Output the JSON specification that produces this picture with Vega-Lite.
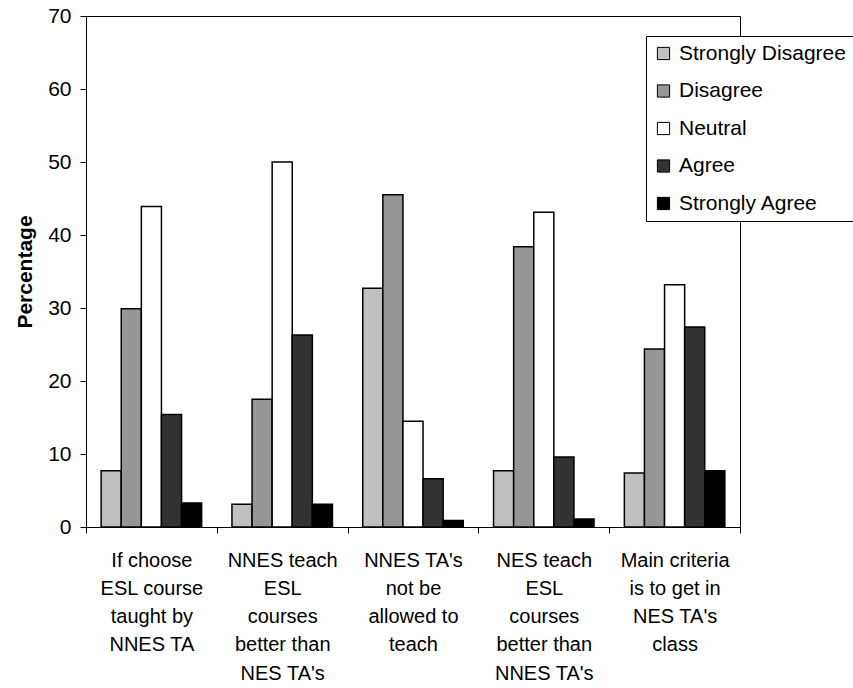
{
  "$schema": "https://vega.github.io/schema/vega-lite/v6.json",
  "autosize": {"type": "none"},
  "width": 654,
  "height": 511,
  "padding": {"left": 86, "top": 16, "right": 113, "bottom": 161},
  "background": "white",
  "config": {
    "view": {"stroke": "#000", "strokeWidth": 1},
    "font": "Liberation Sans"
  },
  "data": {
    "values": [
      {"q": "If choose|ESL course|taught by|NNES TA", "r": "Strongly Disagree", "v": 7.7},
      {"q": "If choose|ESL course|taught by|NNES TA", "r": "Disagree", "v": 29.9},
      {"q": "If choose|ESL course|taught by|NNES TA", "r": "Neutral", "v": 43.9},
      {"q": "If choose|ESL course|taught by|NNES TA", "r": "Agree", "v": 15.4},
      {"q": "If choose|ESL course|taught by|NNES TA", "r": "Strongly Agree", "v": 3.3},
      {"q": "NNES teach|ESL|courses|better than|NES TA's", "r": "Strongly Disagree", "v": 3.1},
      {"q": "NNES teach|ESL|courses|better than|NES TA's", "r": "Disagree", "v": 17.5},
      {"q": "NNES teach|ESL|courses|better than|NES TA's", "r": "Neutral", "v": 50.0},
      {"q": "NNES teach|ESL|courses|better than|NES TA's", "r": "Agree", "v": 26.3},
      {"q": "NNES teach|ESL|courses|better than|NES TA's", "r": "Strongly Agree", "v": 3.1},
      {"q": "NNES TA's|not be|allowed to|teach", "r": "Strongly Disagree", "v": 32.7},
      {"q": "NNES TA's|not be|allowed to|teach", "r": "Disagree", "v": 45.5},
      {"q": "NNES TA's|not be|allowed to|teach", "r": "Neutral", "v": 14.5},
      {"q": "NNES TA's|not be|allowed to|teach", "r": "Agree", "v": 6.6},
      {"q": "NNES TA's|not be|allowed to|teach", "r": "Strongly Agree", "v": 0.9},
      {"q": "NES teach|ESL|courses|better than|NNES TA's", "r": "Strongly Disagree", "v": 7.7},
      {"q": "NES teach|ESL|courses|better than|NNES TA's", "r": "Disagree", "v": 38.4},
      {"q": "NES teach|ESL|courses|better than|NNES TA's", "r": "Neutral", "v": 43.1},
      {"q": "NES teach|ESL|courses|better than|NNES TA's", "r": "Agree", "v": 9.6},
      {"q": "NES teach|ESL|courses|better than|NNES TA's", "r": "Strongly Agree", "v": 1.1},
      {"q": "Main criteria|is to get in|NES TA's|class", "r": "Strongly Disagree", "v": 7.4},
      {"q": "Main criteria|is to get in|NES TA's|class", "r": "Disagree", "v": 24.4},
      {"q": "Main criteria|is to get in|NES TA's|class", "r": "Neutral", "v": 33.2},
      {"q": "Main criteria|is to get in|NES TA's|class", "r": "Agree", "v": 27.4},
      {"q": "Main criteria|is to get in|NES TA's|class", "r": "Strongly Agree", "v": 7.7}
    ]
  },
  "mark": {"type": "bar", "stroke": "#000", "strokeWidth": 1.5},
  "encoding": {
    "x": {
      "field": "q",
      "type": "nominal",
      "sort": null,
      "scale": {"paddingInner": 0, "paddingOuter": 0},
      "axis": {
        "title": null,
        "labelAngle": 0,
        "labelExpr": "split(datum.label, '|')",
        "labelFont": "Liberation Sans",
        "labelFontSize": 20,
        "labelColor": "#000",
        "labelLineHeight": 28.25,
        "labelPadding": 17,
        "labelLimit": 200,
        "tickBand": "extent",
        "tickSize": 6,
        "tickColor": "#000",
        "domainColor": "#000",
        "labelBaseline": "top"
      }
    },
    "xOffset": {
      "field": "r",
      "type": "nominal",
      "sort": ["Strongly Disagree", "Disagree", "Neutral", "Agree", "Strongly Agree"],
      "scale": {"paddingInner": 0, "paddingOuter": 0.754}
    },
    "y": {
      "field": "v",
      "type": "quantitative",
      "scale": {"domain": [0, 70], "nice": false},
      "axis": {
        "title": "Percentage",
        "titleFont": "Liberation Sans",
        "titleFontSize": 21,
        "titleFontWeight": "bold",
        "titleColor": "#000",
        "titlePadding": 12,
        "values": [0, 10, 20, 30, 40, 50, 60, 70],
        "grid": false,
        "labelFont": "Liberation Sans",
        "labelFontSize": 21,
        "labelColor": "#000",
        "labelPadding": 9,
        "tickSize": 6,
        "tickColor": "#000",
        "domainColor": "#000"
      }
    },
    "fill": {
      "field": "r",
      "type": "nominal",
      "sort": ["Strongly Disagree", "Disagree", "Neutral", "Agree", "Strongly Agree"],
      "scale": {
        "domain": ["Strongly Disagree", "Disagree", "Neutral", "Agree", "Strongly Agree"],
        "range": ["#c0c0c0", "#969696", "#ffffff", "#333333", "#000000"]
      },
      "legend": {
        "title": null,
        "orient": "none",
        "legendX": 560,
        "legendY": 20,
        "direction": "vertical",
        "symbolType": "square",
        "symbolSize": 150,
        "symbolStrokeColor": "#000",
        "symbolStrokeWidth": 1,
        "labelFont": "Liberation Sans",
        "labelFontSize": 21,
        "labelColor": "#000",
        "labelOffset": 5,
        "labelLimit": 300,
        "rowPadding": 15.5,
        "padding": 7,
        "strokeColor": "#000",
        "fillColor": "#fff"
      }
    }
  }
}
